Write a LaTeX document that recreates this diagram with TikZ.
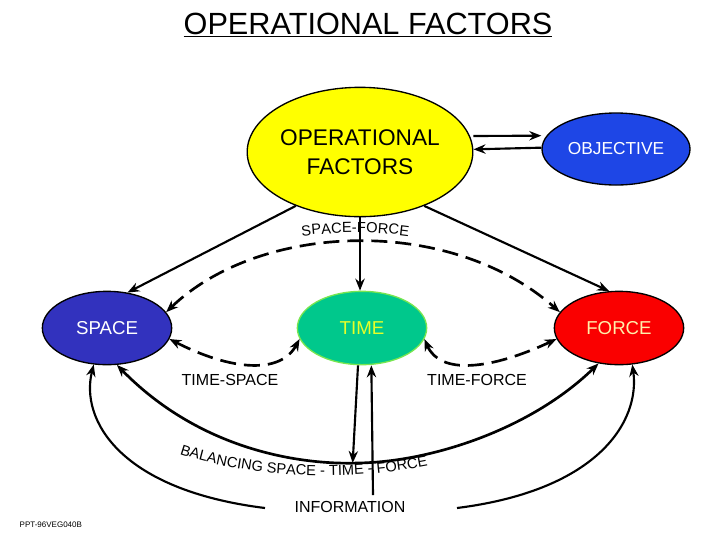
\documentclass[tikz,border=0pt]{standalone}
\usepackage{fontspec}
\setmainfont{Liberation Sans}
\usetikzlibrary{arrows.meta,decorations.text,shapes.geometric}

\begin{document}
\begin{tikzpicture}[x=0.75pt,y=0.75pt,yscale=-1,xscale=1,
  oval/.style={ellipse,draw,line width=1pt,inner sep=0pt},
  link/.style={line width=1.6pt,-{Stealth[length=9pt,width=7pt]}},
  dashlink/.style={line width=2pt,dash pattern=on 12pt off 6pt,{Stealth[length=9pt,width=7pt]}-{Stealth[length=9pt,width=7pt]}}]
\useasboundingbox (0,0) rectangle (720,540);

% Title
\node (title) at (368,25) {\fontsize{23}{26}\selectfont\underline{OPERATIONAL FACTORS}};

% Ovals
\node (opf) [oval,fill={rgb,255:red,255;green,255;blue,0},minimum width=153pt,minimum height=97pt,align=center,font=\fontsize{17}{22}\selectfont] at (360,152) {OPERATIONAL\\FACTORS};
\node (obj) [oval,fill={rgb,255:red,30;green,70;blue,230},text=white,minimum width=111pt,minimum height=54pt,font=\fontsize{13}{15}\selectfont] at (616,149) {OBJECTIVE};
\node (space) [oval,fill={rgb,255:red,50;green,50;blue,190},text=white,minimum width=97pt,minimum height=55pt,font=\fontsize{14}{16}\selectfont] at (107,328) {SPACE};
\node (time) [oval,draw={rgb,255:red,120;green,230;blue,80},fill={rgb,255:red,0;green,200;blue,140},text={rgb,255:red,230;green,255;blue,40},minimum width=97pt,minimum height=55pt,font=\fontsize{14}{16}\selectfont] at (362,328) {TIME};
\node (force) [oval,fill={rgb,255:red,250;green,0;blue,0},text={rgb,255:red,255;green,240;blue,170},minimum width=97pt,minimum height=55pt,font=\fontsize{14}{16}\selectfont] at (619,328) {FORCE};

% Text Nodes
\node (info) at (350,507) {\fontsize{12}{14}\selectfont INFORMATION};
\node (tsp) at (230,380) {\fontsize{12}{14}\selectfont TIME-SPACE};
\node (tfo) at (477,380) {\fontsize{12}{14}\selectfont TIME-FORCE};
\node (code) [anchor=west] at (15,525) {\fontsize{6}{7}\selectfont PPT-96VEG040B};

% Coordinates for free ends
\coordinate (infol) at (265,508);
\coordinate (infor) at (457,508);
\coordinate (infot) at (373,495);
\coordinate (bal) at (358,463);

% Objective arrows
\draw [link] ([yshift=-12pt]opf.east) -- ([yshift=-10pt]obj.west);
\draw [link] ([yshift=-1pt]obj.west) -- ([yshift=-2pt]opf.east);

% Factors to elements
\draw [link] (opf.-140) -- (space.60);
\draw [link] (opf.-40) -- (force.105);
\draw [link] (opf.south) -- (time.north -| opf.south);

% Dashed pairs
\draw [dashlink] (space.15) .. controls (260,222) and (450,215) .. (force.165);
\draw [decorate,decoration={text along path,text={|\fontsize{11}{13}\selectfont|SPACE-FORCE},text align=center,raise=3pt}] (250,250) .. controls (320,232) and (400,232) .. (460,252);
\draw [dashlink] (space.-10) .. controls (230,370) and (280,375) .. (time.-170);
\draw [dashlink] (time.-10) .. controls (440,375) and (490,370) .. (force.-170);

% Balancing curve
\draw [line width=2pt,{Stealth[length=9pt,width=7pt]}-{Stealth[length=9pt,width=7pt]}] (space.-75) .. controls (200,450) and (300,465) .. (bal) .. controls (430,462) and (530,430) .. (force.-120);
\draw [decorate,decoration={text along path,text={|\fontsize{11}{13}\selectfont|BALANCING SPACE - TIME - FORCE},text align=center}] (163,448) .. controls (250,482) and (360,482) .. (445,462);

% Time and information
\draw [link] ([xshift=-3pt]time.south) -- ([xshift=-4pt]bal);
\draw [link] (infot) -- ([xshift=7pt]time.south);

% Information to space and force
\draw [link] (infol) .. controls (120,490) and (80,420) .. (space.-110);
\draw [link] (infor) .. controls (600,490) and (640,420) .. (force.-70);

\end{tikzpicture}
\end{document}
